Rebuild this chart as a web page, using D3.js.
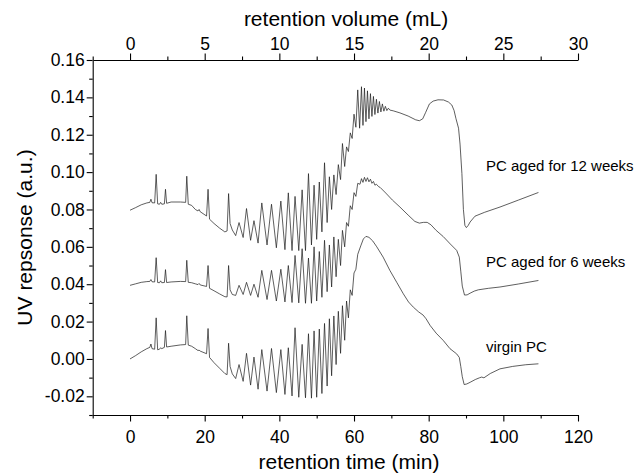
<!DOCTYPE html>
<html>
<head>
<meta charset="utf-8">
<script src="https://cdn.jsdelivr.net/npm/d3@7"></script>
<style>
  body { margin: 0; background: #fff; }
  text { font-family: "Liberation Sans", Arial, Helvetica, sans-serif; fill: #000; }
</style>
</head>
<body>
<svg id="chart" width="644" height="476"></svg>
<script>
// ticks
const timeMajor = [0, 20, 40, 60, 80, 100, 120];
const timeMinor = [-10, 10, 30, 50, 70, 90, 110];
const volMajor = [0, 5, 10, 15, 20, 25, 30];
const volMinor = [-2.5, 2.5, 7.5, 12.5, 17.5, 22.5, 27.5];
const uvMajor = [-0.02, 0, 0.02, 0.04, 0.06, 0.08, 0.10, 0.12, 0.14, 0.16];
const uvMinor = [-0.03, -0.01, 0.01, 0.03, 0.05, 0.07, 0.09, 0.11, 0.13, 0.15];

// oligomer peak region: valley / peak times shared by all three samples (min)
const oligoTimes = [28.3, 29.2, 30.3, 31.2, 32.3, 33.2, 34.3, 35.3, 36.7, 37.9, 39.2, 40.4,
  41.5, 42.4, 43.4, 44.2, 45.2, 46.1, 47.0, 47.8, 48.6, 49.3, 50.0, 50.7, 51.4, 52.1,
  52.8, 53.4, 54.0, 54.6, 55.2, 55.8, 56.4, 56.9, 57.5, 58.0, 58.5, 59.0, 59.5, 60.0, 60.5, 61.0];

// virgin PC
const virginHead = [[0,0.0],[1.5,0.0018],[3,0.0038],[4.5,0.0055],[5.3,0.0062],[5.6,0.008],[5.9,0.0055],
  [6.6,0.0052],[7.0,0.022],[7.4,0.0049],[7.9,0.0052],[8.2,0.006],[8.5,0.0055],[9.2,0.0062],[9.5,0.0152],
  [9.8,0.0064],[11,0.0068],[13.5,0.0075],[14.9,0.0077],[15.2,0.0231],[15.6,0.0074],[16.5,0.0068],
  [17.5,0.0055],[18.2,0.0045],[18.5,0.0047],[18.8,0.0042],[20.5,0.0028],[20.9,0.0163],[21.3,0.0008],
  [22.5,-0.002],[24,-0.005],[25.4,-0.0078],[26.0,-0.0084],[26.4,0.0084],[26.8,-0.004],[27.4,-0.008]];
const virginOligo = [-0.0105, -0.003, -0.012, 0.003, -0.014, 0.001, -0.0162, 0.005, -0.0172, 0.0056,
  -0.018, 0.005, -0.019, 0.006, -0.0198, 0.0167, -0.0205, 0.0078, -0.0208, 0.0135, -0.021, 0.015,
  -0.0205, 0.016, -0.0185, 0.019, -0.0145, 0.0215, -0.009, 0.023, -0.003, 0.0255, 0.003, 0.0285,
  0.010, 0.031, 0.022, 0.037, 0.034, 0.046, 0.048, 0.056];
const virginTail = [[61.8,0.0605],[62.5,0.0642],[63.2,0.0656],[64.0,0.0651],[65.0,0.0632],[66.1,0.060],
  [67.8,0.0545],[69.6,0.0474],[71.5,0.0408],[73.2,0.0349],[74.6,0.0305],[75.9,0.0277],[77.3,0.0252],
  [78.5,0.0235],[79.3,0.0215],[80.4,0.0179],[82,0.0138],[83.9,0.0099],[85.7,0.0055],[87.5,0.0027],
  [88.2,0.0008],[88.6,-0.004],[89.0,-0.0095],[89.5,-0.0137],[90.2,-0.0134],[91.1,-0.0125],[92.5,-0.0110],
  [93.6,-0.0101],[94.2,-0.0097],[94.8,-0.0101],[96.5,-0.0078],[99.1,-0.0053],[102.5,-0.0040],
  [106,-0.0031],[109.4,-0.0026]];

// PC aged for 6 weeks
const aged6Head = [[0,0.0394],[1.5,0.0402],[3,0.041],[4.5,0.0414],[5.3,0.0415],[5.6,0.0425],[5.9,0.0413],
  [6.6,0.0412],[7.0,0.0542],[7.4,0.0409],[7.9,0.0408],[8.2,0.0418],[8.5,0.0408],[9.2,0.0409],[9.5,0.0478],
  [9.8,0.0409],[11,0.0412],[13.5,0.0415],[14.9,0.0414],[15.2,0.0528],[15.6,0.041],[16.5,0.0408],
  [17.5,0.0402],[18.2,0.0398],[18.5,0.0404],[18.8,0.0396],[20.5,0.0388],[20.9,0.050],[21.3,0.0378],
  [22.5,0.0365],[24,0.0348],[25.4,0.0333],[26.0,0.0332],[26.4,0.050],[26.8,0.037],[27.4,0.0345]];
const aged6Oligo = [0.034, 0.0394, 0.0345, 0.041, 0.034, 0.040, 0.033, 0.0474, 0.0318, 0.0474,
  0.031, 0.048, 0.0305, 0.050, 0.0302, 0.0554, 0.030, 0.059, 0.0298, 0.054, 0.0298, 0.060,
  0.031, 0.0575, 0.033, 0.0635, 0.036, 0.061, 0.0385, 0.0653, 0.044, 0.064, 0.050, 0.0688,
  0.060, 0.073, 0.071, 0.082, 0.080, 0.089, 0.087, 0.094];
const aged6Ripple = [[61.6,0.0935],[62.0,0.0965],[62.4,0.0945],[62.8,0.0972],[63.2,0.095],[63.6,0.097],
  [64.0,0.0948],[64.4,0.0962],[64.8,0.094],[65.2,0.095],[65.6,0.093],[66.0,0.0935],[66.6,0.0922]];
const aged6Tail = [[67.0,0.0918],[68.5,0.0888],[70.3,0.085],[72.3,0.0813],[74.5,0.077],[76.3,0.0736],
  [77.5,0.0727],[78.6,0.0731],[79.6,0.0731],[80.6,0.0718],[82.0,0.0688],[83.9,0.0655],[85.8,0.0615],
  [87.5,0.0581],[88.2,0.0545],[88.6,0.047],[89.0,0.039],[89.6,0.0342],[90.3,0.0343],[91.1,0.0352],
  [92.2,0.0363],[93.3,0.037],[96,0.0378],[99.1,0.0385],[104,0.0401],[109.4,0.042]];

// PC aged for 12 weeks
const aged12Head = [[0,0.0796],[1.5,0.081],[3,0.0825],[4.5,0.0835],[5.3,0.0838],[5.6,0.0855],[5.9,0.0836],
  [6.6,0.0835],[7.0,0.0988],[7.4,0.083],[7.9,0.0828],[8.2,0.0838],[8.5,0.0828],[9.2,0.083],[9.5,0.0908],
  [9.8,0.0833],[11,0.084],[13.5,0.084],[14.9,0.0838],[15.2,0.0978],[15.6,0.0828],[16.5,0.0822],
  [17.5,0.080],[18.2,0.0792],[18.5,0.080],[18.8,0.0788],[20.5,0.0765],[20.9,0.0908],[21.3,0.0748],
  [22.5,0.0725],[24,0.070],[25.4,0.068],[26.0,0.0685],[26.4,0.0885],[26.8,0.0725],[27.4,0.069]];
const aged12Oligo = [0.066, 0.073, 0.065, 0.0805, 0.0635, 0.074, 0.062, 0.0835, 0.061, 0.0828,
  0.0595, 0.0845, 0.0585, 0.0889, 0.058, 0.087, 0.058, 0.0905, 0.058, 0.0992, 0.061, 0.093,
  0.064, 0.0947, 0.068, 0.105, 0.073, 0.0975, 0.080, 0.0985, 0.088, 0.104, 0.096, 0.1153,
  0.103, 0.1135, 0.111, 0.121, 0.118, 0.131, 0.124, 0.144];
const aged12Ripple = [[61.5,0.1235],[62.0,0.1457],[62.4,0.125],[62.8,0.145],[63.2,0.127],[63.6,0.1435],
  [64.0,0.1285],[64.4,0.142],[64.8,0.1298],[65.2,0.1405],[65.6,0.1308],[66.0,0.139],[66.4,0.1316],
  [66.8,0.1378],[67.2,0.1322],[67.6,0.1365],[68.0,0.1326],[68.4,0.1352],[68.8,0.1329],[69.2,0.1342],
  [69.6,0.1332]];
const aged12Tail = [[70.5,0.1328],[72.3,0.1317],[74.5,0.130],[76.5,0.128],[77.5,0.1275],[78.4,0.1285],
  [79.2,0.132],[80.2,0.1365],[81.2,0.138],[82.5,0.1387],[84.0,0.1386],[85.3,0.1375],[86.2,0.1359],
  [86.8,0.133],[87.3,0.1287],[88.0,0.1235],[88.4,0.115],[88.9,0.0993],[89.3,0.080],[89.7,0.0715],
  [90.1,0.0703],[90.6,0.0715],[91.1,0.0733],[92.4,0.0764],[95,0.0785],[99.1,0.0813],[104,0.085],
  [109.4,0.0891]];

const sampleLabels = ["PC aged for 12 weeks", "PC aged for 6 weeks", "virgin PC"];

function build(head, oligo, ripple, tail) {
  return head.concat(oligoTimes.map((t, i) => [t, oligo[i]]), ripple, tail);
}
const traces = [
  build(aged12Head, aged12Oligo, aged12Ripple, aged12Tail),
  build(aged6Head, aged6Oligo, aged6Ripple, aged6Tail),
  build(virginHead, virginOligo, [], virginTail)
];

const svg = d3.select("#chart");
svg.append("rect").attr("width", 644).attr("height", 476).attr("fill", "#fff");

const plotL = 92.7, plotR = 578, plotT = 60, plotB = 415;
const x = d3.scaleLinear().domain([-10, 120]).range([plotL, plotR]);
const xTop = d3.scaleLinear().domain([-2.5, 30]).range([plotL, plotR]);
const y = d3.scaleLinear().domain([-0.03, 0.16]).range([plotB, plotT]);

// axes
function styleAxis(g) {
  g.selectAll("path, line").attr("stroke", "#000").attr("stroke-width", 1.1);
  g.selectAll("text").attr("font-size", 17.5).attr("fill", "#000")
    .attr("font-family", "Liberation Sans, Arial, sans-serif");
}

svg.append("g").attr("transform", `translate(0,${plotB})`)
  .call(d3.axisBottom(x).tickValues(timeMajor).tickSize(6.5).tickSizeOuter(0).tickPadding(9)
    .tickFormat(d3.format("d")))
  .call(styleAxis);
svg.append("g").attr("transform", `translate(0,${plotB})`)
  .call(d3.axisBottom(x).tickValues(timeMinor).tickSize(3.5).tickFormat(""))
  .call(g => g.select(".domain").remove()).call(styleAxis);

svg.append("g").attr("transform", `translate(0,${plotT})`)
  .call(d3.axisTop(xTop).tickValues(volMajor).tickSize(6.5).tickSizeOuter(0).tickPadding(4)
    .tickFormat(d3.format("d")))
  .call(styleAxis);
svg.append("g").attr("transform", `translate(0,${plotT})`)
  .call(d3.axisTop(xTop).tickValues(volMinor).tickSize(3.5).tickFormat(""))
  .call(g => g.select(".domain").remove()).call(styleAxis);

svg.append("g").attr("transform", `translate(${plotL},0)`)
  .call(d3.axisLeft(y).tickValues(uvMajor).tickSize(6).tickSizeOuter(0).tickPadding(2)
    .tickFormat(d => d.toFixed(2)))
  .call(styleAxis);
svg.append("g").attr("transform", `translate(${plotL},0)`)
  .call(d3.axisLeft(y).tickValues(uvMinor).tickSize(3.5).tickFormat(""))
  .call(g => g.select(".domain").remove()).call(styleAxis);

// axis titles
svg.append("text").attr("x", 349).attr("y", 469).attr("text-anchor", "middle")
  .attr("font-size", 21).text("retention time (min)");
svg.append("text").attr("x", 346).attr("y", 26).attr("text-anchor", "middle")
  .attr("font-size", 21).text("retention volume (mL)");
svg.append("text").attr("transform", `translate(32,${(plotT + plotB) / 2}) rotate(-90)`)
  .attr("text-anchor", "middle").attr("font-size", 21).text("UV repsonse (a.u.)");

// traces
const line = d3.line().x(d => x(d[0])).y(d => y(d[1])).curve(d3.curveLinear);
svg.append("g").selectAll("path").data(traces).join("path")
  .attr("d", line)
  .attr("fill", "none")
  .attr("stroke", "#1a1a1a")
  .attr("stroke-width", 0.7)
  .attr("stroke-linejoin", "round");

// sample labels
const labelY = [170.5, 266.5, 351.5];
svg.append("g").selectAll("text").data(sampleLabels).join("text")
  .attr("x", 486).attr("y", (d, i) => labelY[i])
  .attr("font-size", 15).text(d => d);
</script>
</body>
</html>
